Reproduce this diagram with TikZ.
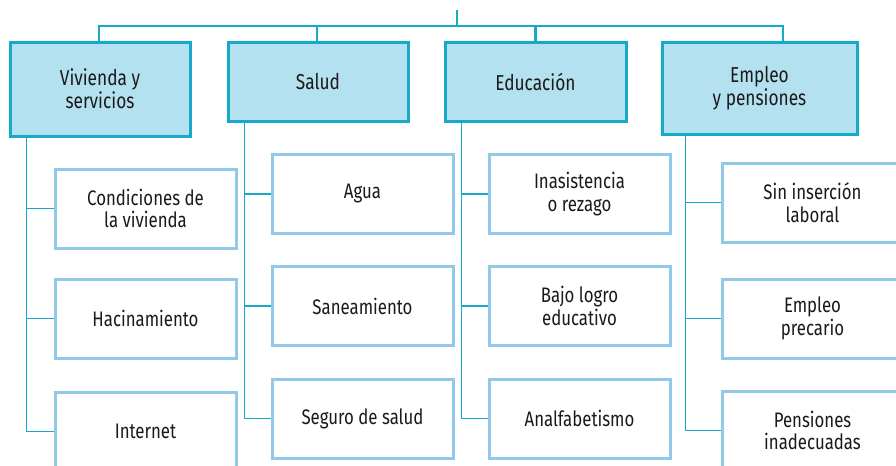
\documentclass[tikz,border=0pt]{standalone}
\usepackage{fontspec}
\setmainfont[FakeStretch=0.8]{Fira Sans}
\usetikzlibrary{positioning}
\definecolor{bus}{HTML}{17A9C9}
\definecolor{headfill}{HTML}{B3E1F0}
\definecolor{itemline}{HTML}{93C9E8}
\definecolor{ink}{HTML}{1A1A1A}
\tikzset{head/.style={draw=bus,line width=1.5pt,fill=headfill,minimum width=90pt,minimum height=39.5pt,
 align=center,text=ink,font=\fontsize{10.8}{11.4}\selectfont},
item/.style={draw=itemline,line width=1.5pt,fill=white,minimum width=90.5pt,minimum height=39.5pt,
 align=center,text=ink,font=\fontsize{10.5}{11.4}\selectfont},
busline/.style={draw=bus,line width=1.4pt},
link/.style={draw=bus,line width=0.9pt}}
\begin{document}
\begin{tikzpicture}[x=0.5pt,y=-0.5pt]
\useasboundingbox (0,0) rectangle (896,466);
\clip (0,0) rectangle (896,466);
% dimension headers
\node[head,minimum height=47pt] (viv) at (100,89) {Vivienda y\\servicios};
\node[head] (sal) at (318,81.5) {Salud};
\node[head,minimum width=90.5pt] (edu) at (535.5,81.5) {Educación};
\node[head,minimum width=97.5pt,minimum height=46pt] (emp) at (759.5,88) {Empleo\\y pensiones};
% indicators
\node[item] (cond) at (145.5,208.5) {Condiciones de\\la vivienda};
\node[item] (haci) at (145.5,318.5) {Hacinamiento};
\node[item] (inte) at (145.5,431.5) {Internet};
\node[item] (agua) at (362.5,194) {Agua};
\node[item] (sane) at (362.5,306) {Saneamiento};
\node[item] (segu) at (362.5,418.5) {Seguro de salud};
\node[item] (inas) at (579.5,194) {Inasistencia\\o rezago};
\node[item] (bajo) at (579.5,306) {Bajo logro\\educativo};
\node[item] (anal) at (579.5,418.5) {Analfabetismo};
\node[item] (sins) at (812.5,202.5) {Sin inserción\\laboral};
\node[item] (prec) at (812.5,318.5) {Empleo\\precario};
\node[item] (pens) at (812.5,430.5) {Pensiones\\inadecuadas};
% top bus
\coordinate (root) at (457,10);
\draw[busline] (root) -- ++(0,16) coordinate (hub);
\draw[busline] (hub) -| ([xshift=-0.5pt]viv.north);
\draw[busline] (hub) -| ([xshift=-0.5pt]sal.north);
\draw[busline] (hub) -| (edu.north);
\draw[busline] (hub) -| ([xshift=11.75pt]emp.north);
% trunks
\coordinate (tviv) at ([xshift=9pt]viv.south west);
\coordinate (tsal) at ([xshift=9pt]sal.south west);
\coordinate (tedu) at ([xshift=9pt]edu.south west);
\coordinate (temp) at ([xshift=12.5pt]emp.south west);
\draw[link] (tviv) |- (inte.west);
\draw[link] (tsal) |- (segu.west);
\draw[link] (tedu) |- (anal.west);
\draw[link] (temp) |- (pens.west);
\foreach \t/\n in {tviv/cond,tviv/haci,tsal/agua,tsal/sane,tedu/inas,tedu/bajo,temp/sins,temp/prec}
 \draw[link] (\t |- \n.west) -- (\n.west);
\end{tikzpicture}
\end{document}
